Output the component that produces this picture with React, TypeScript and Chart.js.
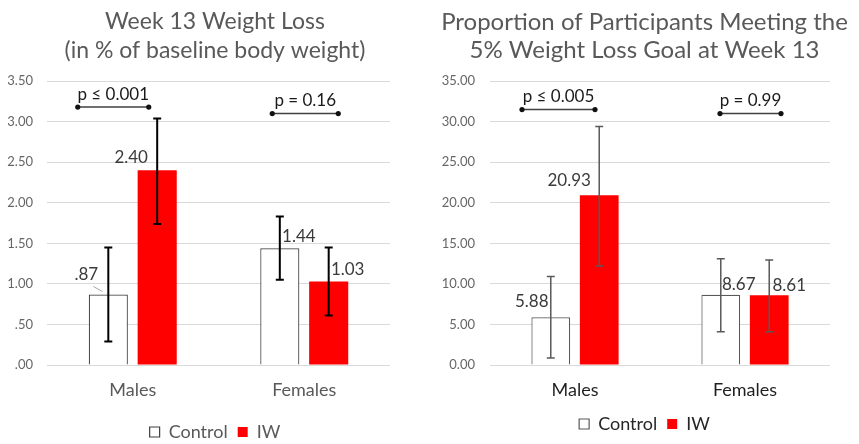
import { useEffect, useRef } from "react";
import { Chart, registerables } from "chart.js";

Chart.register(...registerables);

// ---------- data ----------
const categories = ["Males", "Females"];
const seriesNames = ["Control", "IW"];

// Left panel: Week 13 weight loss (% of baseline body weight)
const lossTitle = ["Week 13 Weight Loss", "(in % of baseline body weight)"];
const lossControl = [0.87, 1.44];
const lossIW = [2.4, 1.03];
const lossControlLow = [0.29, 1.05];
const lossControlHigh = [1.45, 1.83];
const lossIWLow = [1.74, 0.61];
const lossIWHigh = [3.04, 1.45];
const lossControlText = [".87", "1.44"];
const lossIWText = ["2.40", "1.03"];
const lossPText = ["p ≤ 0.001", "p = 0.16"];
const lossPLevel = [3.18, 3.1];
const lossMax = 3.5;
const lossStep = 0.5;

// Right panel: proportion meeting 5% goal
const goalTitle = ["Proportion of Participants Meeting the", "5% Weight Loss Goal at Week 13"];
const goalControl = [5.88, 8.67];
const goalIW = [20.93, 8.61];
const goalControlLow = [0.85, 4.1];
const goalControlHigh = [10.9, 13.1];
const goalIWLow = [12.2, 4.1];
const goalIWHigh = [29.4, 12.95];
const goalControlText = ["5.88", "8.67"];
const goalIWText = ["20.93", "8.61"];
const goalPText = ["p ≤ 0.005", "p = 0.99"];
const goalPLevel = [31.5, 31.0];
const goalMax = 35;
const goalStep = 5;

const FONT = "Lato";

type Panel = {
  title: string[];
  control: number[];
  iw: number[];
  ctrlLow: number[];
  ctrlHigh: number[];
  iwLow: number[];
  iwHigh: number[];
  ctrlText: string[];
  iwText: string[];
  pText: string[];
  pLevel: number[];
  max: number;
  step: number;
  tickFmt: (v: number) => string;
  // styling
  width: number;
  titleSize: number;
  yWidth: number;
  yPad: number;
  rightGap: number;
  xHeight: number;
  xPad: number;
  padBottom: number;
  catColor: string;
  legendColor: string;
  ctrlBorder: string;
  errColor: string;
  errWidth: number;
  ctrlOffsets: [number, number][];
  iwOffsets: [number, number][];
  leader: boolean[];
  bracketX: [number, number][];
};

const panels: Panel[] = [
  {
    title: lossTitle,
    control: lossControl,
    iw: lossIW,
    ctrlLow: lossControlLow,
    ctrlHigh: lossControlHigh,
    iwLow: lossIWLow,
    iwHigh: lossIWHigh,
    ctrlText: lossControlText,
    iwText: lossIWText,
    pText: lossPText,
    pLevel: lossPLevel,
    max: lossMax,
    step: lossStep,
    tickFmt: (v) => (v < 1 ? v.toFixed(2).replace(/^0/, "") : v.toFixed(2)),
    width: 430,
    titleSize: 23,
    yWidth: 47,
    yPad: 14,
    rightGap: 40,
    xHeight: 48,
    xPad: 14,
    padBottom: 0,
    catColor: "#595959",
    legendColor: "#595959",
    ctrlBorder: "#404040",
    errColor: "#000000",
    errWidth: 2,
    ctrlOffsets: [[-22, -20], [19, -12]],
    iwOffsets: [[-26, -13], [19, -12]],
    leader: [true, false],
    bracketX: [[-55, 16], [-32, 34]],
  },
  {
    title: goalTitle,
    control: goalControl,
    iw: goalIW,
    ctrlLow: goalControlLow,
    ctrlHigh: goalControlHigh,
    iwLow: goalIWLow,
    iwHigh: goalIWHigh,
    ctrlText: goalControlText,
    iwText: goalIWText,
    pText: goalPText,
    pLevel: goalPLevel,
    max: goalMax,
    step: goalStep,
    tickFmt: (v) => v.toFixed(2),
    width: 429,
    titleSize: 24,
    yWidth: 60,
    yPad: 15,
    rightGap: 29,
    xHeight: 40,
    xPad: 14,
    padBottom: 8,
    catColor: "#1f1f1f",
    legendColor: "#262626",
    ctrlBorder: "#595959",
    errColor: "#595959",
    errWidth: 1.5,
    ctrlOffsets: [[-19, -16], [18, -10]],
    iwOffsets: [[-30, -15], [20, -10]],
    leader: [false, false],
    bracketX: [[-53, 20], [-25, 36]],
  },
];

const CANVAS_H = 451;

function makeAnnotatePlugin(p: Panel) {
  return {
    id: "annotate",
    afterDatasetsDraw(chart: any) {
      const ctx = chart.ctx as CanvasRenderingContext2D;
      const ys = chart.scales.y;
      const xs = chart.scales.x;
      ctx.save();
      const errSets = [
        { low: p.ctrlLow, high: p.ctrlHigh },
        { low: p.iwLow, high: p.iwHigh },
      ];
      const cap = 4;
      errSets.forEach((e, ds) => {
        const meta = chart.getDatasetMeta(ds);
        meta.data.forEach((bar: any, i: number) => {
          const yl = ys.getPixelForValue(e.low[i]);
          const yh = ys.getPixelForValue(e.high[i]);
          ctx.strokeStyle = p.errColor;
          ctx.lineWidth = p.errWidth;
          ctx.beginPath();
          ctx.moveTo(bar.x, yl);
          ctx.lineTo(bar.x, yh);
          ctx.moveTo(bar.x - cap, yl);
          ctx.lineTo(bar.x + cap, yl);
          ctx.moveTo(bar.x - cap, yh);
          ctx.lineTo(bar.x + cap, yh);
          ctx.stroke();
        });
      });

      // value labels
      const texts = [p.ctrlText, p.iwText];
      const offs = [p.ctrlOffsets, p.iwOffsets];
      ctx.font = `17px ${FONT}`;
      ctx.fillStyle = "#3a3a3a";
      ctx.textAlign = "center";
      ctx.textBaseline = "middle";
      texts.forEach((arr, ds) => {
        const meta = chart.getDatasetMeta(ds);
        meta.data.forEach((bar: any, i: number) => {
          const lx = bar.x + offs[ds][i][0];
          const ly = bar.y + offs[ds][i][1];
          ctx.fillText(arr[i], lx, ly);
          if (ds === 0 && p.leader[i]) {
            ctx.strokeStyle = "#a6a6a6";
            ctx.lineWidth = 1;
            ctx.beginPath();
            ctx.moveTo(lx + 7, ly + 12);
            ctx.lineTo(bar.x - 6, bar.y - 3);
            ctx.stroke();
          }
        });
      });

      // significance brackets
      p.pText.forEach((t, i) => {
        const cx = xs.getPixelForValue(i);
        const x1 = cx + p.bracketX[i][0];
        const x2 = cx + p.bracketX[i][1];
        const y = ys.getPixelForValue(p.pLevel[i]);
        ctx.strokeStyle = "#404040";
        ctx.lineWidth = 1.5;
        ctx.beginPath();
        ctx.moveTo(x1, y);
        ctx.lineTo(x2, y);
        ctx.stroke();
        ctx.fillStyle = "#111111";
        [x1, x2].forEach((x) => {
          ctx.beginPath();
          ctx.arc(x, y, 2.6, 0, Math.PI * 2);
          ctx.fill();
        });
        ctx.font = `17px ${FONT}`;
        ctx.fillStyle = "#1a1a1a";
        ctx.textAlign = "center";
        ctx.textBaseline = "middle";
        ctx.fillText(t, (x1 + x2) / 2, y - 13);
      });
      ctx.restore();
    },
  };
}

function BarPanel({ p, left }: { p: Panel; left: number }) {
  const ref = useRef<HTMLCanvasElement | null>(null);
  useEffect(() => {
    if (!ref.current) return;
    const chart = new Chart(ref.current, {
      type: "bar",
      data: {
        labels: categories,
        datasets: [
          {
            label: seriesNames[0],
            data: p.control,
            backgroundColor: "#ffffff",
            borderColor: p.ctrlBorder,
            borderWidth: 1.2,
          },
          {
            label: seriesNames[1],
            data: p.iw,
            backgroundColor: "#ff0000",
            borderColor: "#ff0000",
            borderWidth: 0,
          },
        ],
      },
      options: {
        animation: false,
        responsive: false,
        devicePixelRatio: 1,
        categoryPercentage: 0.57,
        barPercentage: 0.8,
        layout: { padding: { left: 0, right: 0, top: 0, bottom: p.padBottom } },
        plugins: {
          title: {
            display: true,
            text: p.title,
            color: "#595959",
            font: { family: FONT, size: p.titleSize, weight: "normal", lineHeight: 28.08 / p.titleSize },
            padding: { top: 8, bottom: 17 },
          },
          legend: {
            position: "bottom",
            labels: {
              boxWidth: 10,
              boxHeight: 10,
              padding: 10,
              color: p.legendColor,
              font: { family: FONT, size: 18 },
            },
          },
          tooltip: { enabled: false },
        },
        scales: {
          x: {
            grid: { display: false, drawTicks: false },
            border: { display: false },
            ticks: { color: p.catColor, font: { family: FONT, size: 18 }, padding: p.xPad },
            afterFit: (s: any) => {
              s.height = p.xHeight;
            },
          },
          y: {
            min: 0,
            max: p.max,
            grid: { color: "#d9d9d9", drawTicks: false },
            border: { display: false },
            ticks: {
              stepSize: p.step,
              color: "#666666",
              font: { family: FONT, size: 13 },
              padding: p.yPad,
              callback: (v: any) => p.tickFmt(Number(v)),
            },
            afterFit: (s: any) => {
              s.width = p.yWidth;
            },
          },
          y2: {
            type: "linear",
            position: "right",
            display: true,
            grid: { display: false, drawTicks: false },
            border: { display: false },
            ticks: { display: false },
            afterFit: (s: any) => {
              s.width = p.rightGap;
            },
          },
        },
      } as any,
      plugins: [makeAnnotatePlugin(p)],
    });
    return () => chart.destroy();
  }, [p]);
  return (
    <canvas
      ref={ref}
      width={p.width}
      height={CANVAS_H}
      style={{ position: "absolute", left, top: 0, display: "block" }}
    />
  );
}

export default function App() {
  return (
    <div
      style={{
        position: "fixed",
        left: 0,
        top: 0,
        width: 859,
        height: 444,
        overflow: "hidden",
        background: "#ffffff",
      }}
    >
      <BarPanel p={panels[0]} left={0} />
      <BarPanel p={panels[1]} left={430} />
    </div>
  );
}
